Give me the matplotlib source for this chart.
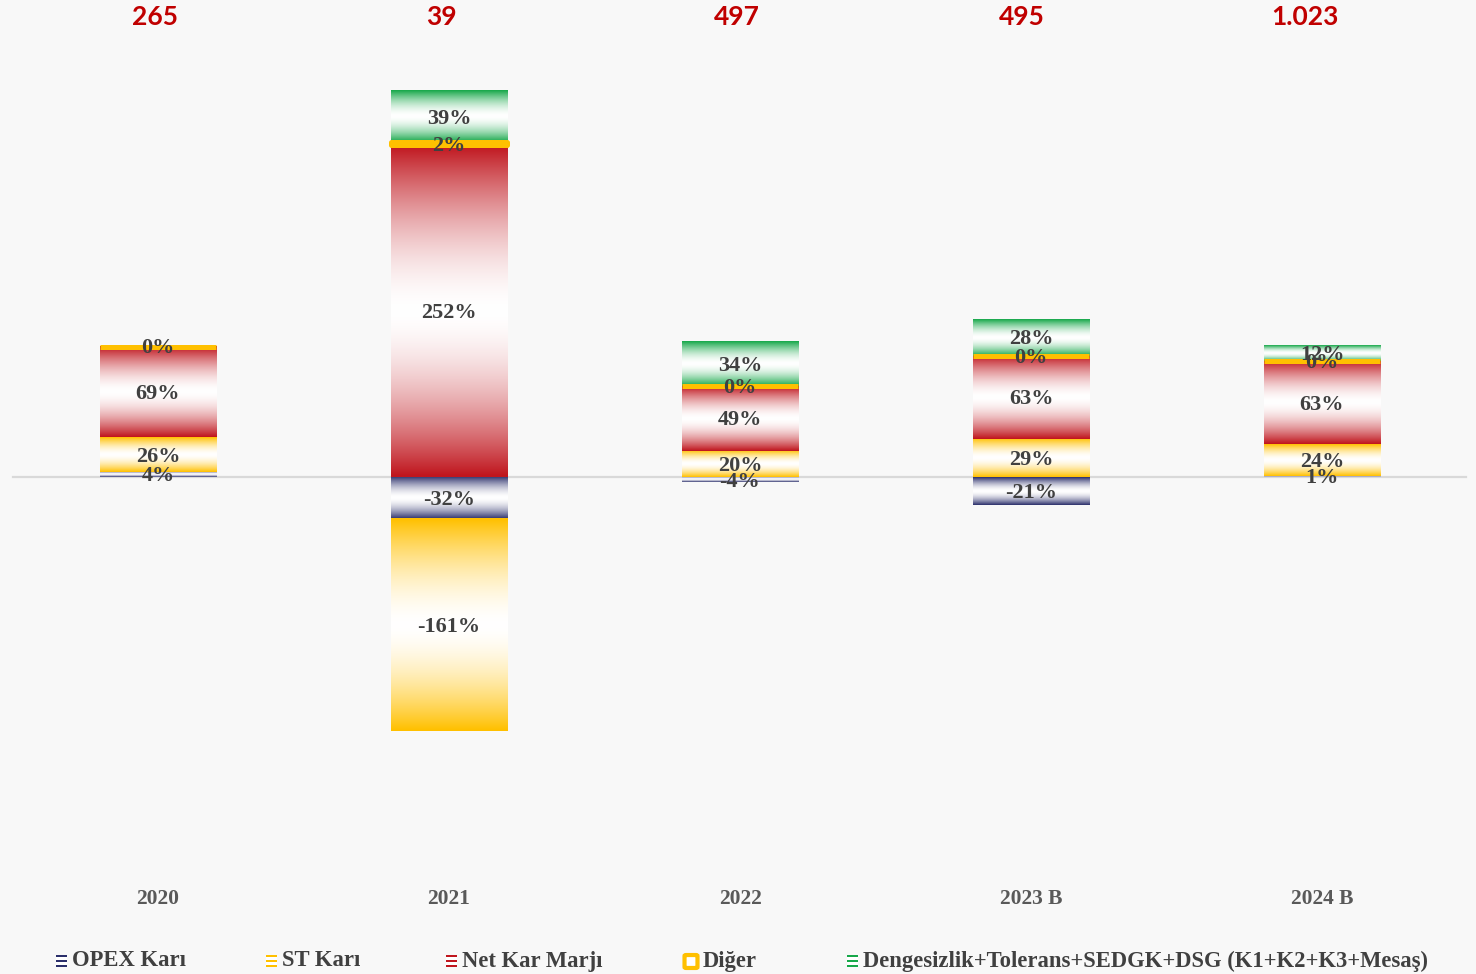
import matplotlib
matplotlib.use('Agg')
import matplotlib.pyplot as plt
import numpy as np
from matplotlib.colors import to_rgb
from matplotlib.patches import FancyBboxPatch

# data (percent shares of each component per year)
years = ['2020', '2021', '2022', '2023 B', '2024 B']
totals = ['265', '39', '497', '495', '1.023']
opex = [4, -32, -4, -21, 1]
st = [26, -161, 20, 29, 24]
net = [69, 252, 49, 63, 63]
diger = [0, 2, 0, 0, 0]
deng = [0, 39, 34, 28, 12]

series_names = ['OPEX Karı', 'ST Karı', 'Net Kar Marjı', 'Diğer',
                'Dengesizlik+Tolerans+SEDGK+DSG (K1+K2+K3+Mesaş)']
series_vals = [opex, st, net, diger, deng]
colors = ['#2B2F6B', '#FFC000', '#C0161E', '#FFC000', '#17A84A']

W, H = 1476, 974
px_per_pct = 1.318
zero_px = 477
bottom_px = 880

fig = plt.figure(figsize=(W / 100, H / 100), dpi=100)
fig.patch.set_facecolor('#F8F8F8')
ax = fig.add_axes([0, (H - bottom_px) / H, 1, bottom_px / H])
ax.set_facecolor('none')

x = np.arange(len(years))
bar_w = 0.40


def grad_img(color, n=100, p=1.7):
    t = np.linspace(0, 1, n)
    w = np.abs(2 * t - 1) ** p
    c = np.array(to_rgb(color))
    img = (1 - w)[:, None] * np.ones(3) + w[:, None] * c
    return img[:, None, :]


pos_base = np.zeros(len(years))
neg_base = np.zeros(len(years))
labels = []
for k, (vals, col) in enumerate(zip(series_vals, colors)):
    for i, v in enumerate(vals):
        if v >= 0:
            b = pos_base[i]
            pos_base[i] += v
        else:
            b = neg_base[i]
            neg_base[i] += v
        lo, hi = min(b, b + v), max(b, b + v)
        x0, x1 = x[i] - bar_w / 2, x[i] + bar_w / 2
        if k == 3:
            ax.bar(x[i], hi - lo, bottom=lo, width=bar_w, facecolor='#FFC000',
                   edgecolor=col, linewidth=3.6, joinstyle='round', zorder=4)
        elif hi > lo:
            ax.imshow(grad_img(col), extent=[x0, x1, lo, hi], aspect='auto',
                      interpolation='bilinear', zorder=2)
        if k == 4 and v == 0:
            continue
        labels.append((x[i], (lo + hi) / 2, f'{v}%'))

for xi, yi, s in labels:
    ax.text(xi, yi - 1.5, s, ha='center', va='center', fontsize=16,
            fontfamily='Liberation Serif', fontweight='bold', color='#404040', zorder=6)

ax.axhline(0, xmin=13 / W, xmax=1466 / W, color='#D9D9D9', linewidth=1.6, zorder=1)

ymax = zero_px / px_per_pct
ymin = -(bottom_px - zero_px) / px_per_pct
ax.set_ylim(ymin, ymax)
ax.set_xlim(-158 / 291, (W - 158) / 291)

# totals row sits a bit left of the bars in the original
total_px = [155, 441, 737, 1022, 1305]
for tp, t in zip(total_px, totals):
    fig.text(tp / W, (H - 17) / H, t, ha='center', va='center',
             fontsize=19, fontfamily='Lato', fontweight='bold', color='#C00000')

for xi, yr in zip(x, years):
    ax.text(xi, -(899 - zero_px) / px_per_pct, yr, ha='center', va='center',
            fontsize=15.5, fontfamily='Liberation Serif', fontweight='bold',
            color='#595959', clip_on=False)

ax.axis('off')

# legend drawn by hand
leg_y = 961
icon_x = [56, 266, 446, 685, 847]
for name, col, ix, k in zip(series_names, colors, icon_x, range(5)):
    if k == 3:
        fig.patches.append(FancyBboxPatch(((ix + 1) / W, (H - leg_y - 6) / H), 10 / W, 11 / H,
                                          boxstyle='round,pad=0.001', transform=fig.transFigure,
                                          facecolor='white', edgecolor=col, linewidth=3))
        tx = ix + 18
    else:
        iax = fig.add_axes([ix / W, (H - leg_y - 6) / H, 11 / W, 12 / H])
        stripes = np.array([to_rgb(col), (1, 1, 1), to_rgb(col), (1, 1, 1), to_rgb(col)])
        iax.imshow(stripes[:, None, :], aspect='auto', interpolation='nearest')
        iax.axis('off')
        tx = ix + 16
    fig.text(tx / W, (H - leg_y) / H, name, ha='left', va='center', fontsize=16.3,
             fontfamily='Liberation Serif', fontweight='bold', color='#404040')

fig.savefig('out.png', dpi=100, facecolor=fig.get_facecolor())
